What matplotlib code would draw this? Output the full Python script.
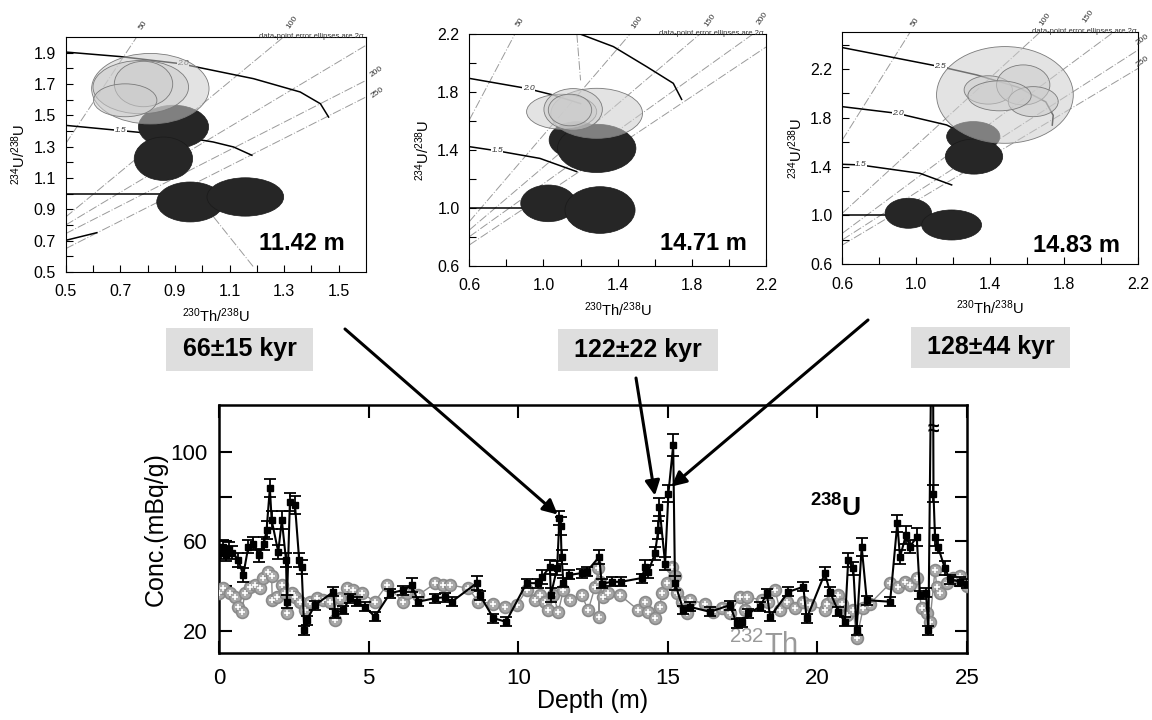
import matplotlib
matplotlib.use('Agg')
import matplotlib.pyplot as plt
from matplotlib.patches import Ellipse, Rectangle, ConnectionPatch

plt.rcParams['font.family'] = ['Liberation Sans', 'DejaVu Sans']
plt.rcParams['mathtext.fontset'] = 'custom'
plt.rcParams['mathtext.rm'] = 'Liberation Sans'
plt.rcParams['mathtext.bf'] = 'Liberation Sans:bold'
plt.rcParams['mathtext.it'] = 'Liberation Sans:italic'

# ---------------- main chart data ----------------
u_depth = [0.00, 0.08, 0.15, 0.25, 0.35, 0.45, 0.65, 0.81, 0.98, 1.14, 1.34, 1.50, 1.59, 1.70, 1.76,
           1.98, 2.10, 2.24, 2.27, 2.37, 2.54, 2.68, 2.76, 2.85, 2.93, 3.21, 3.82, 3.88, 4.15, 4.38,
           4.60, 4.88, 5.21, 5.72, 6.16, 6.44, 6.66, 7.22, 7.55, 7.78, 8.61, 8.72, 9.17, 9.59, 10.28,
           10.66, 10.79, 11.06, 11.09, 11.30, 11.38, 11.42, 11.45, 11.51, 11.71, 12.12, 12.29, 12.71,
           12.79, 13.12, 13.43, 14.13, 14.24, 14.35, 14.57, 14.68, 14.72, 14.91, 15.02, 15.18, 15.24,
           15.52, 15.74, 16.41, 17.08, 17.30, 17.48, 17.69, 18.08, 18.31, 18.42, 19.03, 19.53, 19.64,
           20.25, 20.42, 20.70, 20.92, 21.03, 21.20, 21.31, 21.48, 21.65, 22.43, 22.67, 22.76, 22.96,
           23.09, 23.32, 23.43, 23.63, 23.71, 23.85, 23.88, 23.93, 24.03, 24.26, 24.43, 24.77, 25.00]
u_conc = [57.0, 55.0, 57.5, 54.0, 56.5, 55.0, 51.6, 44.9, 57.6, 59.0, 53.8, 59.0, 65.0, 83.8, 69.5,
          55.3, 69.5, 51.6, 33.0, 77.7, 76.2, 51.6, 48.6, 20.3, 24.8, 31.5, 37.4, 27.9, 29.3, 34.6,
          33.0, 30.7, 26.3, 36.8, 38.2, 40.4, 33.0, 34.6, 35.0, 33.0, 41.3, 35.9, 25.7, 24.0, 41.3,
          41.3, 44.0, 48.6, 36.0, 48.0, 70.5, 67.0, 53.0, 41.6, 45.0, 45.8, 46.5, 53.1,
          41.0, 41.9, 41.9, 43.6, 48.6, 46.5, 54.6, 65.0, 75.4, 50.1, 81.4, 103.0, 41.3,
          29.3, 30.7, 28.5, 31.5, 23.3, 23.8, 27.8, 30.7, 36.7, 26.3, 37.4, 39.7, 25.5,
          45.7, 37.4, 28.5, 24.0, 51.6, 47.9, 20.3, 57.6, 33.7, 33.0, 68.0, 53.0, 62.8,
          57.6, 62.0, 36.0, 37.0, 20.3, 200.0, 81.4, 62.0, 57.6, 48.0, 43.0, 42.0, 41.0]
u_err = [3, 3, 3, 3, 3, 3, 3, 3, 3, 3, 3, 3, 4, 4, 4,
         3, 4, 3, 3, 4, 4, 3, 3, 2, 2, 2, 2, 2, 2, 2,
         2, 2, 2, 2, 2, 3, 2, 2, 2, 2, 3, 2, 2, 2, 2,
         2, 3, 3, 3, 3, 3, 4, 3, 2, 2, 2, 2, 3,
         2, 2, 2, 2, 3, 3, 3, 4, 4, 3, 4, 5, 3,
         2, 2, 2, 2, 2, 2, 2, 2, 2, 2, 2, 2, 2,
         3, 2, 2, 2, 3, 3, 2, 4, 2, 2, 4, 3, 4,
         3, 4, 2, 2, 2, 0, 4, 4, 3, 3, 2, 2, 2]

th_depth = [0.00, 0.14, 0.37, 0.53, 0.65, 0.76, 0.87, 1.04, 1.20, 1.37, 1.48, 1.65, 1.76, 1.78, 1.93,
            2.10, 2.21, 2.26, 2.43, 2.54, 2.71, 2.87, 3.04, 3.27, 3.49, 3.71, 3.88, 4.04, 4.27, 4.49,
            4.77, 5.21, 5.60, 6.16, 6.27, 6.66, 7.22, 7.50, 7.72, 8.33, 8.67, 9.17, 9.56, 9.95, 10.28,
            10.56, 10.73, 10.90, 11.01, 11.17, 11.34, 11.51, 11.73, 12.12, 12.34, 12.57, 12.68, 12.70,
            12.73, 12.84, 13.01, 13.40, 14.01, 14.24, 14.35, 14.57, 14.74, 14.79, 14.96, 15.13, 15.24,
            15.30, 15.46, 15.63, 15.74, 16.24, 16.52, 16.80, 17.08, 17.41, 17.58, 17.64, 18.14, 18.36,
            18.58, 18.75, 18.97, 19.25, 19.53, 19.76, 20.25, 20.31, 20.53, 20.70, 20.81, 20.98, 21.20,
            21.31, 21.53, 21.76, 22.43, 22.70, 22.93, 23.09, 23.32, 23.49, 23.65, 23.76, 23.93, 23.99,
            24.10, 24.32, 24.54, 24.77, 25.00]
th_conc = [36.7, 39.0, 37.0, 35.2, 30.7, 28.5, 37.0, 39.7, 40.5, 39.0, 43.4, 46.4, 44.3, 33.7, 35.2,
           40.5, 36.7, 27.8, 37.0, 35.2, 33.0, 29.3, 33.0, 34.5, 33.7, 33.0, 24.8, 34.5, 39.0, 38.2,
           37.0, 33.0, 40.4, 33.0, 36.7, 36.0, 41.2, 40.5, 40.5, 39.0, 33.0, 32.2, 30.7, 31.5, 38.2,
           33.7, 36.0, 33.0, 29.3, 36.0, 28.5, 38.2, 33.7, 36.0, 29.3, 39.7, 47.9, 26.3,
           42.0, 35.2, 37.0, 36.0, 29.3, 33.0, 28.5, 25.5, 30.7, 36.7, 41.2, 48.6, 44.3,
           36.7, 33.0, 27.8, 33.7, 32.2, 28.5, 30.0, 27.8, 35.2, 29.3, 35.2, 33.7, 33.0,
           38.2, 29.3, 33.0, 30.0, 33.0, 31.5, 29.3, 32.2, 35.2, 36.0, 32.2, 27.0, 29.3,
           16.6, 30.0, 32.2, 41.2, 39.7, 42.0, 40.5, 43.4, 30.0, 27.8, 24.0, 47.1, 39.7,
           36.7, 41.2, 43.4, 44.3, 40.0]

x_ticks = [0, 5, 10, 15, 20, 25]
y_ticks = [20, 40, 60, 80, 100]
y_ticklabels = ['20', '', '60', '', '100']

ages = ['66\u00b115 kyr', '122\u00b122 kyr', '128\u00b144 kyr']
depth_labels = ['11.42 m', '14.71 m', '14.83 m']
arrow_targets = [(11.32, 72.0), (14.57, 80.5), (15.12, 84.5)]

# ---------------- inset data ----------------
ins_xlim = [(0.5, 1.6), (0.6, 2.2), (0.6, 2.2)]
ins_ylim = [(0.5, 2.0), (0.6, 2.2), (0.6, 2.5)]
ins_xticks = [[0.5, 0.7, 0.9, 1.1, 1.3, 1.5], [0.6, 1.0, 1.4, 1.8, 2.2], [0.6, 1.0, 1.4, 1.8, 2.2]]
ins_yticks = [[0.5, 0.7, 0.9, 1.1, 1.3, 1.5, 1.7, 1.9], [0.6, 1.0, 1.4, 1.8, 2.2], [0.6, 1.0, 1.4, 1.8, 2.2]]
ins_xminor = [[0.6, 0.8, 1.0, 1.2, 1.4], [0.8, 1.2, 1.6, 2.0], [0.8, 1.2, 1.6, 2.0]]
ins_yminor = [[0.6, 0.8, 1.0, 1.2, 1.4, 1.6, 1.8], [0.8, 1.2, 1.6, 2.0], [0.8, 1.2, 1.6, 2.0, 2.4]]

# evolution curves (x list, y list)
ins_curves = [
    [([0.5, 0.7, 0.919, 1.188, 1.359, 1.433, 1.463], [1.904, 1.875, 1.83, 1.734, 1.649, 1.574, 1.489]),
     ([0.5, 0.693, 0.9, 1.04, 1.115, 1.182], [1.436, 1.404, 1.37, 1.33, 1.298, 1.245]),
     ([0.5, 1.0], [1.0, 1.0]),
     ([0.5, 0.614], [0.702, 0.751])],
    [([1.197, 1.377, 1.556, 1.70, 1.745], [2.2, 2.113, 1.975, 1.86, 1.749]),
     ([0.6, 0.909, 1.053, 1.2], [1.894, 1.825, 1.779, 1.72]),
     ([0.6, 0.747, 0.981, 1.179], [1.423, 1.395, 1.342, 1.251]),
     ([0.6, 1.0], [1.0, 1.0])],
    [([0.6, 1.128, 1.326, 1.55, 1.70, 1.74, 1.735], [2.375, 2.219, 2.151, 2.05, 1.93, 1.82, 1.74]),
     ([0.6, 0.894, 1.164, 1.218], [1.891, 1.837, 1.741, 1.70]),
     ([0.6, 0.695, 1.02, 1.191], [1.419, 1.414, 1.345, 1.25]),
     ([0.6, 1.0], [1.0, 1.0])],
]
# isochron end points ((x0, y0), (x1, y1))
ins_isochrons = [
    [((0.5, 1.319), (0.76, 2.0)), ((0.5, 0.851), (1.298, 2.0)), ((0.5, 0.80), (1.6, 1.947)),
     ((0.5, 0.745), (1.6, 1.723)), ((0.5, 0.649), (1.6, 1.617)), ((1.042, 0.851), (1.188, 0.532))],
    [((0.6, 1.607), (0.846, 2.2)), ((0.6, 0.906), (1.467, 2.2)), ((0.6, 0.848), (1.844, 2.2)),
     ((0.6, 0.802), (2.13, 2.2)), ((0.6, 0.745), (2.2, 2.11)), ((1.18, 2.2), (1.20, 1.88))],
    [((0.6, 1.618), (0.966, 2.5)), ((0.6, 1.018), (1.668, 2.5)), ((0.6, 0.854), (2.065, 2.5)),
     ((0.6, 0.80), (2.2, 2.356)), ((0.6, 0.758), (2.2, 2.205))],
]
iso_labels = [
    [('50', 143, 25), ('100', 292, 22), ('200', 377, 72), ('250', 378, 93)],
    [('50', 520, 22), ('100', 637, 22), ('150', 710, 20), ('200', 762, 18)],
    [('50', 915, 22), ('100', 1045, 19), ('150', 1088, 16), ('200', 1143, 40), ('250', 1143, 62)],
]
curve_labels = [
    [('1.5', 0.70, 1.402), ('2.0', 0.93, 1.83)],
    [('2.0', 0.92, 1.823), ('1.5', 0.75, 1.395)],
    [('2.5', 1.13, 2.219), ('2.0', 0.90, 1.836), ('1.5', 0.70, 1.414)],
]
# ellipses (cx, cy, width, height)
ins_dark = [
    [(0.895, 1.426, 0.257, 0.277), (0.858, 1.223, 0.214, 0.277), (0.956, 0.947, 0.245, 0.255),
     (1.158, 0.979, 0.281, 0.245)],
    [(1.179, 1.469, 0.297, 0.253), (1.287, 1.411, 0.423, 0.333), (1.026, 1.032, 0.297, 0.253),
     (1.305, 0.986, 0.378, 0.322)],
    [(1.308, 1.646, 0.288, 0.246), (1.312, 1.482, 0.31, 0.287), (0.957, 1.018, 0.252, 0.246),
     (1.191, 0.922, 0.324, 0.246)],
]
ins_light = [
    [(0.81, 1.67, 0.43, 0.45), (0.775, 1.68, 0.35, 0.34), (0.785, 1.70, 0.214, 0.29),
     (0.718, 1.596, 0.232, 0.21)],
    [(1.287, 1.653, 0.494, 0.345), (1.098, 1.664, 0.378, 0.241), (1.16, 1.68, 0.315, 0.287),
     (1.143, 1.676, 0.234, 0.218)],
    [(1.479, 1.987, 0.739, 0.792), (1.389, 2.028, 0.261, 0.232), (1.578, 2.069, 0.288, 0.328),
     (1.632, 1.932, 0.27, 0.246), (1.45, 1.98, 0.342, 0.246)],
]

W, H = 1152, 720
fig = plt.figure(figsize=(11.52, 7.2), dpi=100)


def fx(px):
    return px / W


def fy(py):
    return 1 - py / H


# ---------------- insets ----------------
ins_rect_px = [(65.7, 37, 366, 272), (469.3, 34, 766, 266), (842.3, 32.3, 1138.3, 264.3)]
label_pos = [(0.93, 0.123), (0.936, 0.099), (0.938, 0.083)]
for i, (l, t, r, b) in enumerate(ins_rect_px):
    ax = fig.add_axes([fx(l), fy(b), (r - l) / W, (b - t) / H])
    ax.set_xlim(*ins_xlim[i])
    ax.set_ylim(*ins_ylim[i])
    ax.set_xticks(ins_xticks[i])
    ax.set_yticks(ins_yticks[i])
    ax.set_xticks(ins_xminor[i], minor=True)
    ax.set_yticks(ins_yminor[i], minor=True)
    ax.set_xticklabels(['%.1f' % v for v in ins_xticks[i]])
    ax.set_yticklabels(['%.1f' % v for v in ins_yticks[i]])
    ax.tick_params(which='both', direction='in', length=5, width=0.8, labelsize=11.5,
                   top=False, right=False)
    ax.tick_params(axis='x', which='both', pad=9)
    ax.tick_params(axis='y', which='both', pad=7)
    for s in ax.spines.values():
        s.set_linewidth(0.8)
    for (p0, p1) in ins_isochrons[i]:
        ax.plot([p0[0], p1[0]], [p0[1], p1[1]], color='#9a9a9a', lw=0.7,
                ls=(0, (9, 2, 1, 2)), zorder=1)
    for cx, cy in ins_curves[i]:
        ax.plot(cx, cy, color='black', lw=1.1, zorder=2)
    for txt, x, y in curve_labels[i]:
        ax.text(x, y, txt, fontsize=6, style='italic', color='#333333', ha='center', va='center',
                zorder=3, bbox=dict(facecolor='white', edgecolor='none', pad=0.3))
    for (cx, cy, w, h) in ins_dark[i]:
        ax.add_patch(Ellipse((cx, cy), w, h, facecolor='#262626', edgecolor='#1a1a1a',
                             lw=0.5, zorder=4))
    for (cx, cy, w, h) in ins_light[i]:
        ax.add_patch(Ellipse((cx, cy), w, h, facecolor=(0.80, 0.80, 0.80, 0.55),
                             edgecolor='#7a7a7a', lw=0.6, zorder=5))
    ax.set_xlabel(r'$^{230}$Th/$^{238}$U', fontsize=10.5, labelpad=5)
    ax.set_ylabel(r'$^{234}$U/$^{238}$U', fontsize=10.5, labelpad=4)
    ax.text(label_pos[i][0], label_pos[i][1], depth_labels[i], transform=ax.transAxes,
            fontsize=17, fontweight='bold', ha='right', va='center', zorder=6)
    fig.text(fx(r - 2), fy(t + 3), 'data-point error ellipses are 2\u03c3', fontsize=5.5,
             color='#333333', ha='right', va='bottom')
    for txt, px, py in iso_labels[i]:
        rot = 55 if py < 30 else 35
        fig.text(fx(px), fy(py), txt, fontsize=6, color='#333333', rotation=rot,
                 ha='center', va='center')

# ---------------- age boxes ----------------
box_px = [(166, 328, 313, 371), (558, 329, 718, 371), (911, 327, 1070, 368)]
for (l, t, r, b), txt in zip(box_px, ages):
    fig.add_artist(Rectangle((fx(l), fy(b)), (r - l) / W, (b - t) / H,
                             transform=fig.transFigure, facecolor='#dedede', edgecolor='none'))
    fig.text(fx((l + r) / 2), fy((t + b) / 2), txt, fontsize=18, fontweight='bold',
             ha='center', va='center')

# ---------------- main chart ----------------
ax = fig.add_axes([fx(219), fy(652.7), (967 - 219) / W, (652.7 - 405) / H])
ax.set_xlim(0, 25)
ax.set_ylim(10.2, 121)

ax.plot(th_depth, th_conc, color='#8a8a8a', lw=1.0, zorder=2)
ax.plot(th_depth, th_conc, ls='none', marker='o', markersize=8.5, markerfacecolor='#a8a8a8',
        markeredgecolor='#8a8a8a', markeredgewidth=1.2, zorder=3)
ax.plot(th_depth, th_conc, ls='none', marker='+', markersize=5, color='white',
        markeredgewidth=1.2, zorder=4)

ax.errorbar(u_depth, u_conc, yerr=u_err, color='black', lw=1.5, elinewidth=1.3, capsize=4,
            capthick=1.3, marker='s', markersize=4, zorder=5)
ax.text(23.87, 110, '\u2248', fontsize=15, fontweight='bold', ha='center', va='center',
        zorder=6)

ax.set_xticks(x_ticks)
ax.set_yticks(y_ticks)
ax.set_yticklabels(y_ticklabels)
ax.tick_params(direction='in', length=9, width=1.5, labelsize=16, top=True, right=True)
ax.tick_params(axis='x', pad=11)
ax.tick_params(axis='y', pad=8)
for s in ax.spines.values():
    s.set_linewidth(1.8)
ax.set_xlabel('Depth (m)', fontsize=18, labelpad=0)
ax.set_ylabel('Conc.(mBq/g)', fontsize=18, labelpad=2)

ax.text(20.6, 75, r'$^{\mathbf{238}}$U', fontsize=19, fontweight='bold', ha='center',
        va='center')
ax.text(18.2, 13.5, r'$^{232}$Th', fontsize=21, color='#9a9a9a', ha='center', va='center',
        clip_on=False, zorder=1)

# ---------------- arrows ----------------
arrow_start_px = [(345, 329), (636, 378), (868, 320)]
for (px, py), tgt in zip(arrow_start_px, arrow_targets):
    con = ConnectionPatch(xyA=(fx(px), fy(py)), coordsA='figure fraction', xyB=tgt,
                          coordsB=ax.transData, arrowstyle='-|>', lw=2.2, color='black',
                          mutation_scale=22, zorder=10)
    fig.add_artist(con)

fig.savefig('out.png', dpi=100)
